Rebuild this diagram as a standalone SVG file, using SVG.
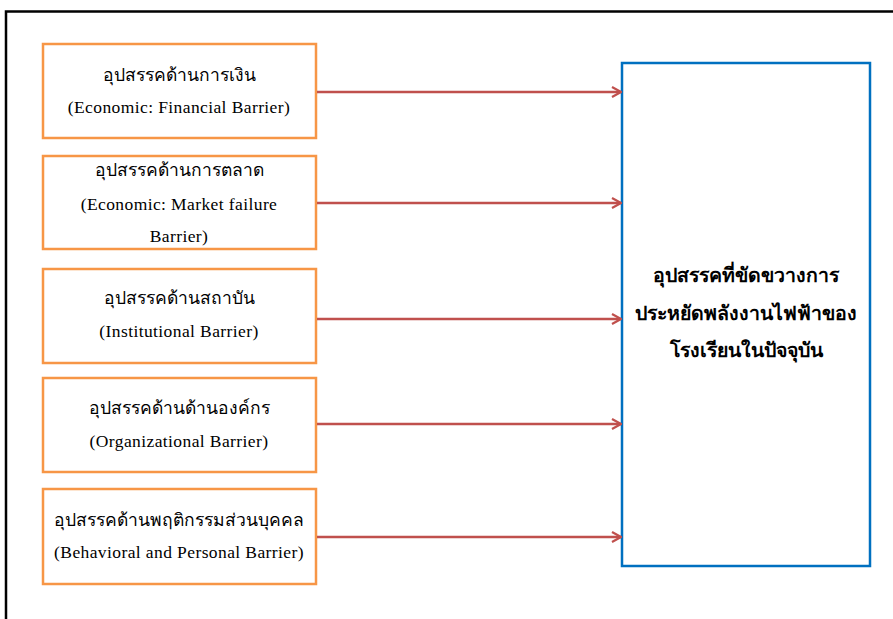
<svg xmlns="http://www.w3.org/2000/svg" width="893" height="619" viewBox="0 0 893 619">
  <style>
    .frame { fill: none; stroke: #000; stroke-width: 2.5; }
    .src { fill: #fff; stroke: #F79646; stroke-width: 2.5; }
    .dst { fill: #fff; stroke: #0070C0; stroke-width: 2.5; }
    .link { fill: none; stroke: #C0504D; stroke-width: 2.5; }
    .th { font-family: "Liberation Serif", "Noto Sans CJK SC", serif; font-size: 17.5px; fill: #000; text-anchor: middle; }
    .en { font-family: "Liberation Serif", serif; font-size: 17.5px; fill: #000; text-anchor: middle; letter-spacing: 0.4px; }
    .big { font-family: "Liberation Serif", "Noto Sans CJK SC", serif; font-size: 19.5px; font-weight: bold; fill: #000; text-anchor: middle; }
  </style>
  <defs>
    <marker id="head" viewBox="0 0 12 12" refX="11" refY="6" markerWidth="12" markerHeight="12" markerUnits="userSpaceOnUse" orient="auto">
      <path d="M2,1 L11,6 L2,11" fill="none" stroke="#C0504D" stroke-width="2.2"/>
    </marker>
  </defs>

  <rect width="893" height="619" fill="#fff"/>
  <!-- outer frame (top and left edges visible) -->
  <path class="frame" d="M6,619 V11.5 H893"/>

  <g id="n1">
    <rect class="src" x="43" y="44" width="273" height="94"/>
    <text class="th" x="179" y="81">อุปสรรคด้านการเงิน</text>
    <text class="en" x="179" y="113">(Economic: Financial Barrier)</text>
  </g>
  <g id="n2">
    <rect class="src" x="43" y="156" width="273" height="93"/>
    <text class="th" x="179" y="176">อุปสรรคด้านการตลาด</text>
    <text class="en" x="179" y="210">(Economic: Market failure</text>
    <text class="en" x="179" y="242">Barrier)</text>
  </g>
  <g id="n3">
    <rect class="src" x="43" y="269" width="273" height="94"/>
    <text class="th" x="179" y="304">อุปสรรคด้านสถาบัน</text>
    <text class="en" x="179" y="337">(Institutional Barrier)</text>
  </g>
  <g id="n4">
    <rect class="src" x="43" y="378" width="273" height="94"/>
    <text class="th" x="179" y="414">อุปสรรคด้านด้านองค์กร</text>
    <text class="en" x="179" y="447">(Organizational Barrier)</text>
  </g>
  <g id="n5">
    <rect class="src" x="43" y="489" width="273" height="95"/>
    <text class="th" x="179" y="526">อุปสรรคด้านพฤติกรรมส่วนบุคคล</text>
    <text class="en" x="179" y="558">(Behavioral and Personal Barrier)</text>
  </g>

  <g id="target">
    <rect class="dst" x="622" y="63" width="248" height="503"/>
    <text class="big" x="746" y="282">อุปสรรคที่ขัดขวางการ</text>
    <text class="big" x="746" y="320">ประหยัดพลังงานไฟฟ้าของ</text>
    <text class="big" x="746" y="357">โรงเรียนในปัจจุบัน</text>
  </g>

  <g id="connectors">
    <line class="link" x1="317" y1="92" x2="621" y2="92" marker-end="url(#head)"/>
    <line class="link" x1="317" y1="203" x2="621" y2="203" marker-end="url(#head)"/>
    <line class="link" x1="317" y1="319" x2="621" y2="319" marker-end="url(#head)"/>
    <line class="link" x1="317" y1="424" x2="621" y2="424" marker-end="url(#head)"/>
    <line class="link" x1="317" y1="537" x2="621" y2="537" marker-end="url(#head)"/>
  </g>
</svg>
